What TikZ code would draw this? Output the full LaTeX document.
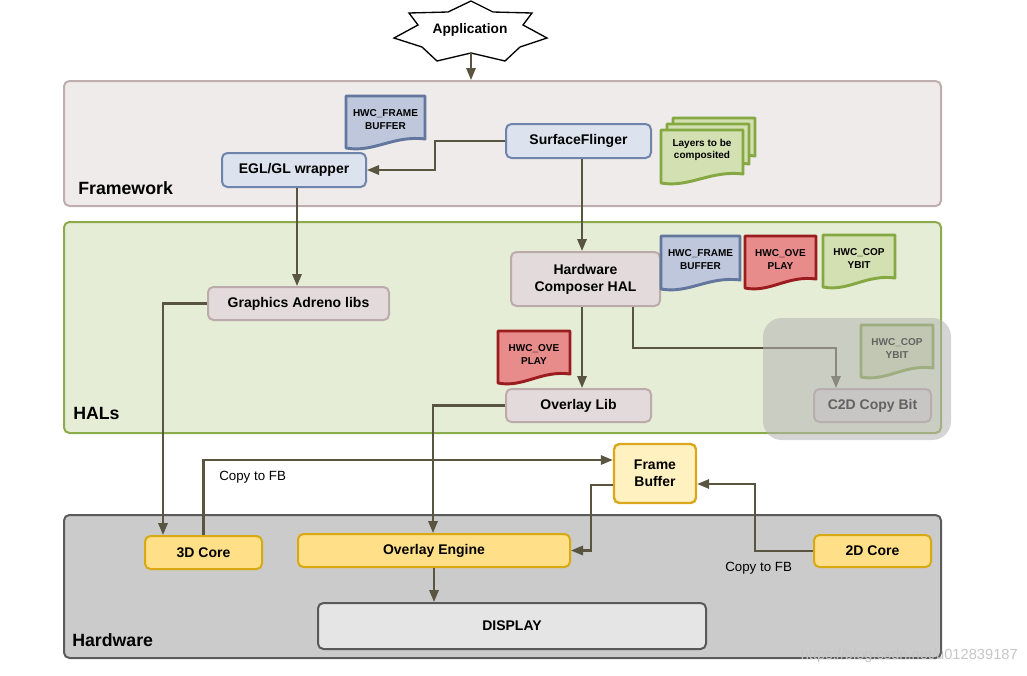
\documentclass[tikz,border=0pt]{standalone}
\usepackage{fontspec}
\setmainfont{Liberation Sans}
\usetikzlibrary{arrows.meta,calc}
\definecolor{fwfill}{HTML}{EFEBEA}
\definecolor{fwdraw}{HTML}{BFAEAE}
\definecolor{halfill}{HTML}{E5EDD6}
\definecolor{haldraw}{HTML}{8CAB4A}
\definecolor{hwfill}{HTML}{CBCBCB}
\definecolor{hwdraw}{HTML}{5B5B5B}
\definecolor{bluefill}{HTML}{DDE3EE}
\definecolor{bluedraw}{HTML}{6F84AC}
\definecolor{pinkfill}{HTML}{E3DBDB}
\definecolor{pinkdraw}{HTML}{BDAAAA}
\definecolor{goldfill}{HTML}{FFDF87}
\definecolor{golddraw}{HTML}{D8A913}
\definecolor{fbfill}{HTML}{FFF1C0}
\definecolor{fbdraw}{HTML}{DCA71C}
\definecolor{dispfill}{HTML}{E5E5E5}
\definecolor{dispdraw}{HTML}{595959}
\definecolor{arrc}{HTML}{5A5541}
\definecolor{bdocfill}{HTML}{BEC7DB}
\definecolor{bdocdraw}{HTML}{62769E}
\definecolor{rdocfill}{HTML}{E88B8B}
\definecolor{rdocdraw}{HTML}{9B1C1F}
\definecolor{gdocfill}{HTML}{D3E0B1}
\definecolor{gdocdraw}{HTML}{86A843}
\definecolor{overc}{HTML}{B3B3B3}
\newcommand\hwcdoc[7]{%
  \draw[#5] (#1,#2) -- (#3,#2) -- (#3,{#4-9}) .. controls ({#1+0.6*(#3-#1)},{#4-13}) and ({#1+0.35*(#3-#1)},{#4+5}) .. (#1,#4) -- cycle;
  \node[doctext] (#6) at ({(#1+#3)/2},{#2+0.45*(#4-#2)}) {#7};}
\begin{document}
\begin{tikzpicture}[x=0.75pt,y=-0.75pt,
  wh/.style 2 args={minimum width=#1*0.75pt, minimum height=#2*0.75pt},
  panel/.style={draw, line width=1.5pt, rounded corners=4pt, inner sep=0pt},
  box/.style={draw, line width=1.5pt, rounded corners=4pt, inner sep=0pt, align=center,
    font=\fontsize{10.5}{12.8}\selectfont\bfseries},
  bluebox/.style={box, fill=bluefill, draw=bluedraw},
  pinkbox/.style={box, fill=pinkfill, draw=pinkdraw},
  goldbox/.style={box, fill=goldfill, draw=golddraw},
  fbbox/.style={box, fill=fbfill, draw=fbdraw, line width=1.8pt},
  dispbox/.style={box, fill=dispfill, draw=dispdraw},
  paneltitle/.style={anchor=west, inner sep=0pt, font=\fontsize{13.3}{16}\selectfont\bfseries},
  doctext/.style={align=center, inner sep=0pt, font=\fontsize{7.5}{9.5}\selectfont\bfseries},
  bdoc/.style={fill=bdocfill, draw=bdocdraw, line width=2.2pt, line join=round},
  rdoc/.style={fill=rdocfill, draw=rdocdraw, line width=2.2pt, line join=round},
  gdoc/.style={fill=gdocfill, draw=gdocdraw, line width=2.2pt, line join=round},
  arr/.style={draw=arrc, line width=1.6pt, -{Triangle[length=9pt,width=7pt]}},
  lbl/.style={inner sep=0pt, font=\fontsize{10}{12}\selectfont}
]
\useasboundingbox (0,0) rectangle (1027,675);

% panels
\node[panel, fill=fwfill, draw=fwdraw, wh={877}{125}] (fw) at (502.5,143.5) {};
\node[panel, fill=halfill, draw=haldraw, wh={877}{211}] (hal) at (502.5,327.5) {};
\node[panel, fill=hwfill, draw=hwdraw, wh={877}{143}] (hw) at (502.5,586.5) {};
\node[paneltitle] (fwt) at (78,188) {Framework};
\node[paneltitle] (halt) at (73,413) {HALs};
\node[paneltitle] (hwt) at (72,640) {Hardware};

% application star
\draw[fill=white, draw=black, line width=1pt, line join=miter]
  (471,1) -- (493,12) -- (532,13) -- (523,25) -- (547,38) -- (520,47) -- (505,61)
  -- (471,53) -- (437,61) -- (422,47) -- (394,38) -- (418,25) -- (409,13) -- (448,12) -- cycle;
\node[inner sep=0pt, font=\fontsize{10.3}{12}\selectfont\bfseries] (app) at (470,30) {Application};
\coordinate (appbot) at (471,53);

% framework
\node[bluebox, wh={145}{34}] (sf) at (578.5,141) {SurfaceFlinger};
\node[bluebox, wh={144}{34}] (egl) at (294,170) {EGL/GL wrapper};
\hwcdoc{346}{96}{425}{148}{bdoc}{docfb1}{HWC\_FRAME\\BUFFER}
\hwcdoc{673}{118}{755}{165}{gdoc}{layer3}{}
\hwcdoc{667}{124}{749}{173}{gdoc}{layer2}{}
\hwcdoc{661}{130}{743}{183}{gdoc}{layer1}{}
\node[doctext] (layers) at (702,150) {Layers to be\\composited};

% HALs
\node[pinkbox, wh={181}{33}] (gal) at (298.5,303.5) {Graphics Adreno libs};
\node[pinkbox, wh={149}{54}] (hwc) at (585.5,279) {Hardware\\Composer HAL};
\node[pinkbox, wh={145}{33}] (ol) at (578.5,405.5) {Overlay Lib};
\node[pinkbox, wh={117}{33}] (c2d) at (872.5,405.5) {C2D Copy Bit};
\hwcdoc{661}{236}{740}{289}{bdoc}{docfb2}{HWC\_FRAME\\BUFFER}
\hwcdoc{745}{236}{816}{288}{rdoc}{docov1}{HWC\_OVE\\PLAY}
\hwcdoc{823}{235}{895}{287}{gdoc}{doccb1}{HWC\_COP\\YBIT}
\hwcdoc{498}{331}{570}{383}{rdoc}{docov2}{HWC\_OVE\\PLAY}
\hwcdoc{861}{325}{933}{377}{gdoc}{doccb2}{HWC\_COP\\YBIT}

% frame buffer and hardware
\node[fbbox, wh={82}{59}] (fb) at (655,473.5) {Frame\\Buffer};
\node[goldbox, wh={117}{33}] (core3d) at (203.5,552.5) {3D Core};
\node[goldbox, wh={272}{33}] (oe) at (434,550.5) {Overlay Engine};
\node[goldbox, wh={117}{32}] (core2d) at (872.5,551) {2D Core};
\node[dispbox, wh={388}{46}] (disp) at (512,626) {DISPLAY};

% connectors
\draw[arr] (appbot) -- (appbot |- fw.north);
\draw[arr] (sf.west) -| (435,155) |- (egl.east);
\draw[arr] ($(sf.south)+(3.5,0)$) coordinate (t1) -- (t1 |- hwc.north);
\draw[arr] ($(egl.south)+(3,0)$) coordinate (t2) -- (t2 |- gal.north);
\draw[arr] (gal.west) -| ($(core3d.north)+(-40.5,0)$);
\draw[arr] ($(hwc.south)+(-3.5,0)$) coordinate (t3) -- (t3 |- ol.north);
\draw[arr] ($(hwc.south)+(47.5,0)$) -- ++(0,41) -| ($(c2d.north)+(-36.5,0)$);
\draw[arr] (ol.west) -| ($(oe.north)+(-1,0)$);
\draw[arr] (core3d.north) |- ($(fb.west)+(0,-13.5)$);
\draw[arr] ($(fb.west)+(0,11.5)$) -- ++(-22,0) |- (oe.east);
\draw[arr] (core2d.west) -- ++(-58,0) |- ($(fb.east)+(0,10.5)$);
\draw[arr] (oe.south) -- (oe.south |- disp.north);
\node[lbl, anchor=west] (cfb1) at (219,477) {Copy to FB};
\node[lbl, anchor=west] (cfb2) at (725,568) {Copy to FB};

% gray overlay over C2D region
\fill[overc, opacity=0.55, rounded corners=14pt] (763,318) rectangle (951,440);

% watermark
\node[inner sep=0pt, anchor=east, text=gray!45, font=\fontsize{11}{13}\selectfont] (wm) at (1018,656) {https://blog.csdn.net/u012839187};
\end{tikzpicture}
\end{document}
